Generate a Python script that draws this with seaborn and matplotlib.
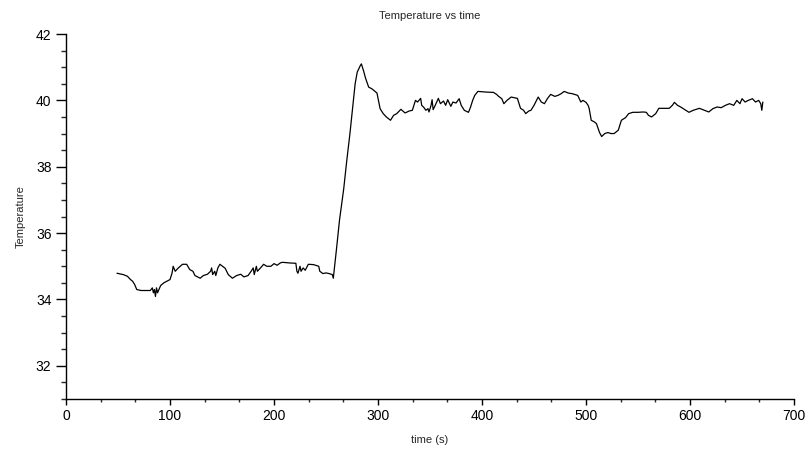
import matplotlib
matplotlib.use("Agg")
import matplotlib.pyplot as plt
import seaborn as sns
from matplotlib.ticker import MultipleLocator

# values
time_s = [49, 55, 59, 62, 64, 66, 68, 72, 81, 83, 84, 85, 86, 87, 88, 91, 94, 97, 100, 102,
          103, 105, 108, 112, 116, 119, 122, 124, 129, 132, 136, 139, 140, 141, 143, 144, 146, 148, 153, 156,
          160, 164, 168, 171, 175, 178, 180, 181, 183, 184, 187, 190, 193, 197, 200, 203, 206, 208, 215, 221,
          222, 223, 225, 226, 228, 230, 233, 238, 243, 244, 247, 250, 253, 256, 257,
          260, 263, 267, 270, 273, 276, 278, 280, 283, 284, 286, 288, 291, 294, 296, 299, 302, 305, 308, 312,
          315, 318, 322, 326, 330, 333, 335, 336, 338, 341, 342, 344, 346, 348, 349, 351, 352, 353, 355, 358,
          360, 363, 365, 367, 370, 372, 375, 378, 380, 383, 387, 389, 391, 393, 396, 404, 411, 414, 416, 419,
          421, 424, 428, 434, 437, 440, 442, 445, 447, 450, 454, 457, 460, 463, 466, 470, 473, 476, 479, 483,
          487, 492, 495, 497, 500, 502, 503, 505, 508, 510, 513, 515, 518, 521, 524, 527, 531, 534, 538, 541,
          545, 550, 555, 558, 560, 563, 567, 570, 575, 580, 583, 585, 588, 591, 595, 599, 603, 609, 614, 618,
          622, 626, 630, 634, 638, 642, 645, 648, 650, 653, 656, 660, 663, 666, 668, 669, 670]
temp_c = [34.79, 34.75, 34.70, 34.60, 34.55, 34.45, 34.30, 34.27, 34.27, 34.35, 34.20, 34.30, 34.09, 34.35, 34.20, 34.42, 34.50, 34.55, 34.60, 34.80,
          35.00, 34.85, 34.95, 35.06, 35.06, 34.90, 34.85, 34.72, 34.64, 34.72, 34.76, 34.85, 34.95, 34.75, 34.85, 34.72, 34.95, 35.06, 34.94, 34.75,
          34.64, 34.72, 34.76, 34.68, 34.72, 34.85, 34.95, 34.75, 35.00, 34.85, 34.95, 35.06, 35.00, 35.00, 35.08, 35.03, 35.10, 35.12, 35.10, 35.09,
          34.85, 34.79, 35.00, 34.85, 34.95, 34.88, 35.06, 35.05, 35.00, 34.85, 34.78, 34.80, 34.78, 34.75, 34.64,
          35.50, 36.40, 37.33, 38.20, 39.00, 39.90, 40.50, 40.85, 41.05, 41.10, 40.90, 40.67, 40.40, 40.35, 40.30, 40.22, 39.75, 39.60, 39.50, 39.40,
          39.55, 39.60, 39.73, 39.62, 39.68, 39.70, 39.90, 40.00, 39.95, 40.06, 39.85, 39.79, 39.70, 39.75, 39.65, 39.85, 40.02, 39.72, 39.85, 40.06,
          39.90, 39.98, 39.85, 40.02, 39.82, 39.95, 39.92, 40.05, 39.85, 39.70, 39.64, 39.80, 40.00, 40.15, 40.27, 40.25, 40.24, 40.18, 40.12, 40.05,
          39.90, 40.00, 40.10, 40.06, 39.76, 39.70, 39.60, 39.68, 39.70, 39.85, 40.10, 39.95, 39.90, 40.06, 40.18, 40.12, 40.15, 40.20, 40.27, 40.22,
          40.20, 40.15, 39.95, 40.00, 39.94, 39.85, 39.76, 39.40, 39.35, 39.30, 39.03, 38.91, 39.00, 39.03, 39.00, 39.00, 39.10, 39.40, 39.48, 39.60,
          39.64, 39.64, 39.65, 39.64, 39.55, 39.50, 39.60, 39.76, 39.76, 39.76, 39.85, 39.94, 39.85, 39.80, 39.72, 39.64, 39.70, 39.76, 39.70, 39.65,
          39.75, 39.80, 39.78, 39.85, 39.90, 39.85, 40.00, 39.90, 40.05, 39.95, 40.00, 40.05, 39.95, 40.00, 39.90, 39.70, 39.95]

x_ticks = [0, 100, 200, 300, 400, 500, 600, 700]
y_ticks = [32, 34, 36, 38, 40, 42]

sns.set_style("ticks")
plt.rcParams['font.family'] = ['Liberation Sans', 'DejaVu Sans']

fig = plt.figure(figsize=(8.09, 4.57), dpi=100)
ax = fig.add_axes([0.0816, 0.1269, 0.8999, 0.7987])

sns.lineplot(x=time_s, y=temp_c, color='black', linewidth=0.9, ax=ax, estimator=None, sort=False)

ax.set_xlim(0, 700)
ax.set_ylim(31, 42)
ax.set_xticks(x_ticks)
ax.set_yticks(y_ticks)
ax.xaxis.set_minor_locator(MultipleLocator(100 / 3))
ax.yaxis.set_minor_locator(MultipleLocator(0.5))
ax.tick_params(axis='both', which='major', labelsize=10, colors='black', width=1.0)
ax.tick_params(axis='x', which='major', length=4)
ax.tick_params(axis='y', which='major', length=7)
ax.tick_params(axis='x', which='minor', length=2.5, width=1.0)
ax.tick_params(axis='y', which='minor', length=3.5, width=1.0)

sns.despine(ax=ax)
for side in ['left', 'bottom']:
    ax.spines[side].set_color('black')
    ax.spines[side].set_linewidth(1.0)

ax.set_title('Temperature vs time', fontsize=8, pad=11)
ax.set_xlabel('time (s)', fontsize=8, labelpad=8)
ax.set_ylabel('Temperature', fontsize=8, labelpad=7)

plt.savefig('out.png', dpi=100)
